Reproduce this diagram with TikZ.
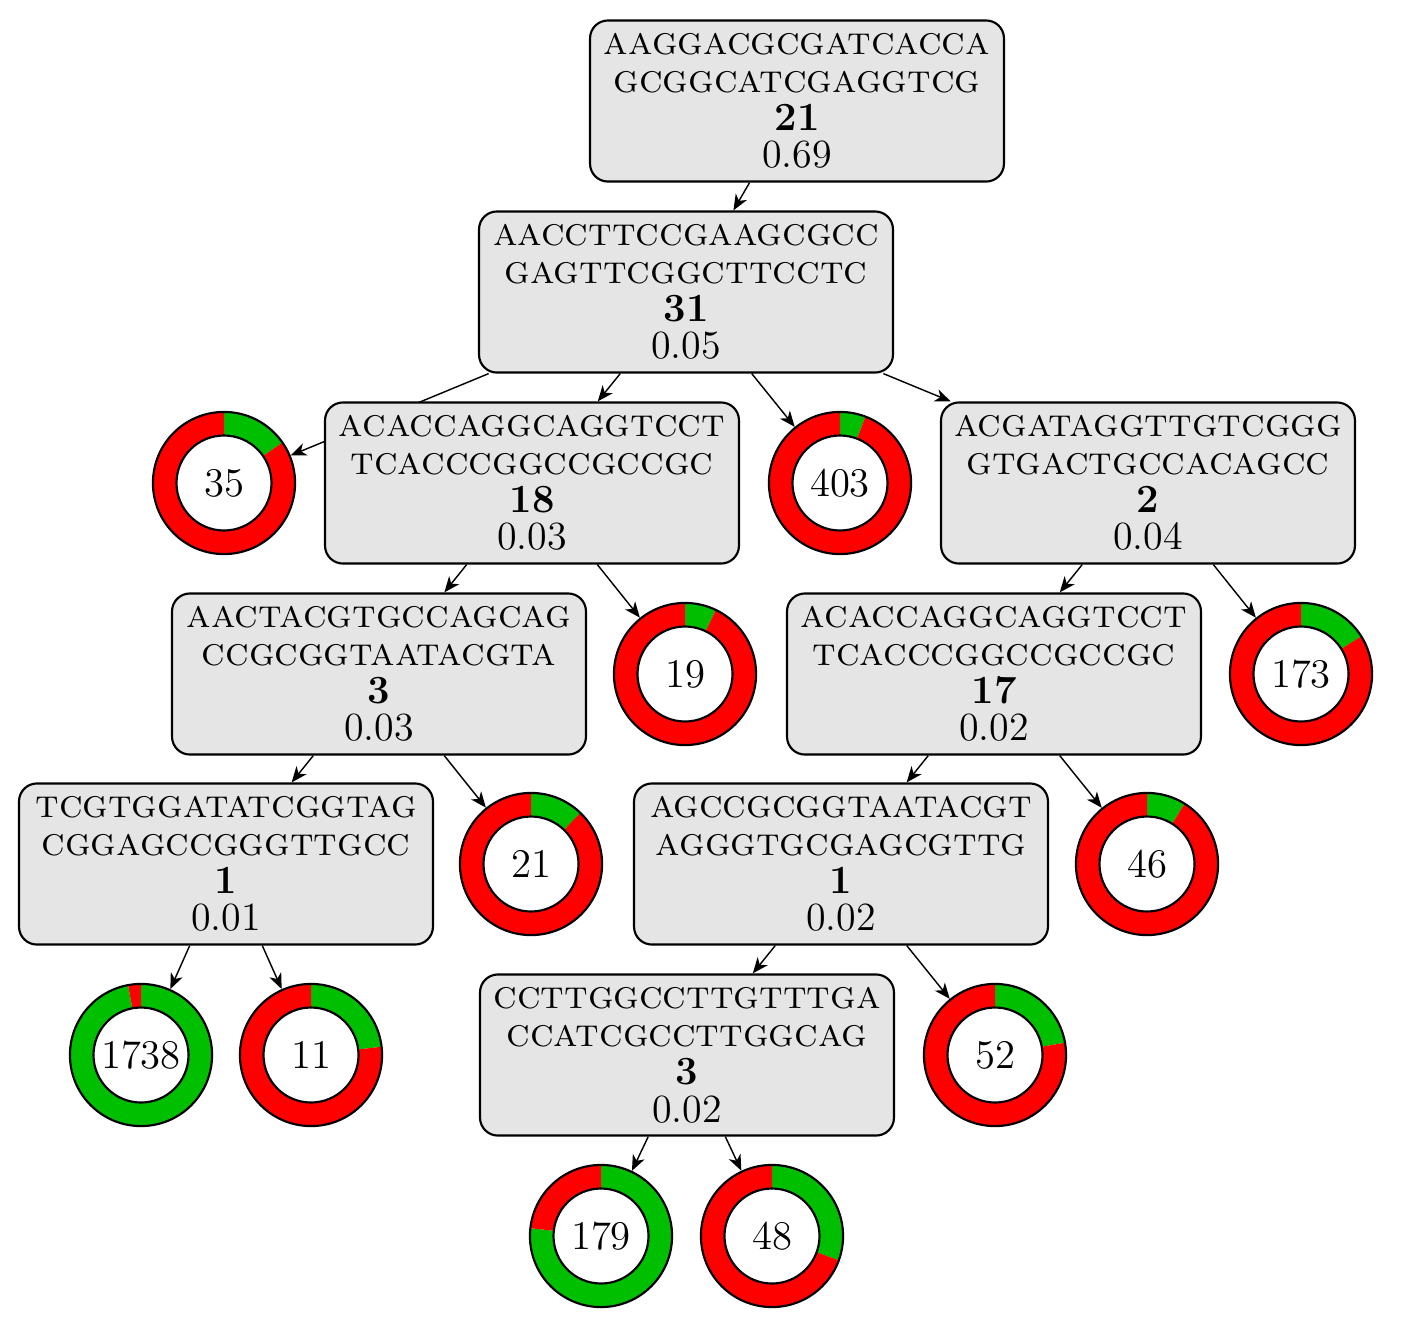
\documentclass[tikz,border=0pt]{standalone}
\usetikzlibrary{backgrounds,arrows.meta}
\definecolor{ringgreen}{RGB}{0,190,0}
\definecolor{ringred}{RGB}{255,0,0}

% donut chart: name, x, y, count, angle of the green share (clockwise from top)
\newcommand\donut[5]{%
  \begin{scope}[shift={(#2,#3)}]
    \fill[ringgreen] (90:19.9pt) arc[start angle=90, end angle={90-#5}, radius=19.9pt]
      -- ({90-#5}:13.3pt) arc[start angle={90-#5}, end angle=90, radius=13.3pt] -- cycle;
    \fill[ringred] ({90-#5}:19.9pt) arc[start angle={90-#5}, end angle=-270, radius=19.9pt]
      -- (-270:13.3pt) arc[start angle=-270, end angle={90-#5}, radius=13.3pt] -- cycle;
    \draw (0,0) circle[radius=19.9pt] (0,0) circle[radius=13.3pt];
  \end{scope}
  \node[donut] (#1) at (#2,#3) {#4};}

\begin{document}
\begin{tikzpicture}[x=0.28pt, y=-0.28pt, semithick,
  kmer/.style={draw, fill=black!10, rounded corners=5pt, minimum width=115.9pt,
    minimum height=45.1pt, align=center, inner sep=2pt,
    font=\fontsize{11.2}{10.6}\selectfont},
  donut/.style={circle, minimum size=39.8pt, inner sep=0pt,
    font=\fontsize{11.4}{13}\selectfont},
  link/.style={-{Stealth[length=4.4pt, width=3.6pt, inset=1.3pt]}}]
\useasboundingbox (0,0) rectangle (1404,1338);

% k-mer boxes
\node[kmer] (A) at (797,101) {\textsc{aaggacgcgatcacca}\\\textsc{gcggcatcgaggtcg}\\\textbf{21}\\0.69};
\node[kmer] (B) at (686,292) {\textsc{aaccttccgaagcgcc}\\\textsc{gagttcggcttcctc}\\\textbf{31}\\0.05};
\node[kmer] (C) at (532,483) {\textsc{acaccaggcaggtcct}\\\textsc{tcacccggccgccgc}\\\textbf{18}\\0.03};
\node[kmer] (D) at (1148,483) {\textsc{acgataggttgtcggg}\\\textsc{gtgactgccacagcc}\\\textbf{2}\\0.04};
\node[kmer] (E) at (379,674) {\textsc{aactacgtgccagcag}\\\textsc{ccgcggtaatacgta}\\\textbf{3}\\0.03};
\node[kmer] (F) at (994,674) {\textsc{acaccaggcaggtcct}\\\textsc{tcacccggccgccgc}\\\textbf{17}\\0.02};
\node[kmer] (G) at (226,864) {\textsc{tcgtggatatcggtag}\\\textsc{cggagccgggttgcc}\\\textbf{1}\\0.01};
\node[kmer] (H) at (841,864) {\textsc{agccgcggtaatacgt}\\\textsc{agggtgcgagcgttg}\\\textbf{1}\\0.02};
\node[kmer] (I) at (687,1055) {\textsc{ccttggccttgtttga}\\\textsc{ccatcgccttggcag}\\\textbf{3}\\0.02};

% leaves
\donut{L35}{224}{483}{35}{55.3}
\donut{L403}{840}{483}{403}{21}
\donut{L19}{685}{674}{19}{25.7}
\donut{L173}{1301}{674}{173}{58}
\donut{L21}{531}{864}{21}{44}
\donut{L46}{1147}{864}{46}{32}
\donut{L1738}{141}{1055}{1738}{349.5}
\donut{L11}{311}{1055}{11}{83.3}
\donut{L52}{995}{1055}{52}{80}
\donut{L179}{601}{1236}{179}{276.3}
\donut{L48}{772}{1236}{48}{110}

% tree edges
\begin{scope}[on background layer]
  \draw[link] (A) -- (B);
  \draw[link] (B) -- (L35);
  \draw[link] (B) -- (C);
  \draw[link] (B) -- (L403);
  \draw[link] (B) -- (D);
  \draw[link] (C) -- (E);
  \draw[link] (C) -- (L19);
  \draw[link] (D) -- (F);
  \draw[link] (D) -- (L173);
  \draw[link] (E) -- (G);
  \draw[link] (E) -- (L21);
  \draw[link] (F) -- (H);
  \draw[link] (F) -- (L46);
  \draw[link] (G) -- (L1738);
  \draw[link] (G) -- (L11);
  \draw[link] (H) -- (I);
  \draw[link] (H) -- (L52);
  \draw[link] (I) -- (L179);
  \draw[link] (I) -- (L48);
\end{scope}
\end{tikzpicture}
\end{document}
